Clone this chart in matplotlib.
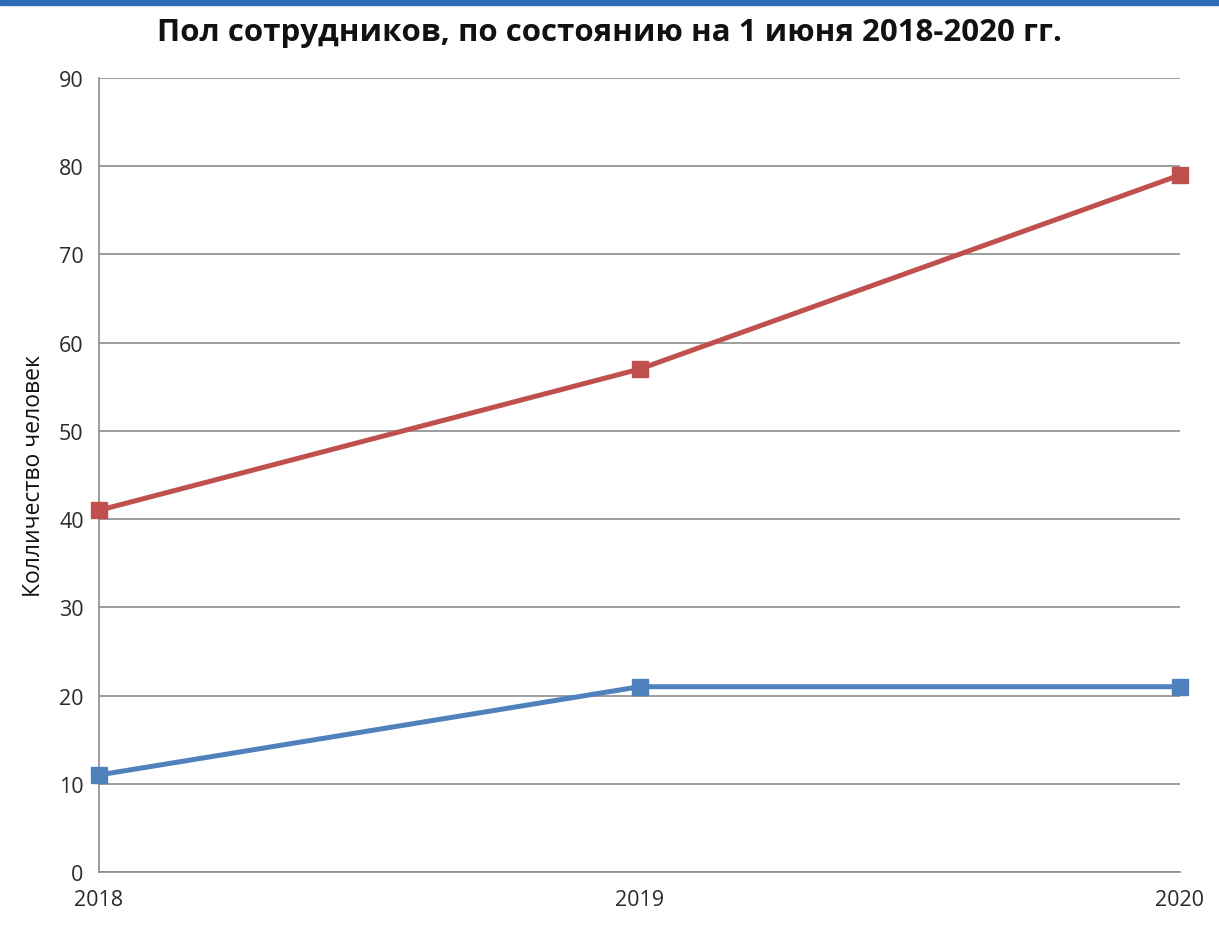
import matplotlib
matplotlib.use("Agg")
import matplotlib.pyplot as plt
from matplotlib.patches import Rectangle

years = [2018, 2019, 2020]
women = [41, 57, 79]
men = [11, 21, 21]
y_ticks = [0, 10, 20, 30, 40, 50, 60, 70, 80, 90]

title = "Пол сотрудников, по состоянию на 1 июня 2018-2020 гг."
y_label = "Колличество человек"

plt.rcParams["font.family"] = ["Open Sans", "DejaVu Sans"]

fig = plt.figure(figsize=(12.19, 9.37), dpi=100)
fig.patches.append(Rectangle((0, 1 - 6 / 937), 1, 6 / 937, transform=fig.transFigure,
                             color="#2e6db4", zorder=0))

ax = fig.add_axes([99 / 1219, 1 - 873 / 937, 1081 / 1219, 794 / 937])

ax.plot(years, women, color="#c0504d", lw=3.6, marker="s", ms=12,
        clip_on=False, zorder=3)
ax.plot(years, men, color="#4f81bd", lw=3.6, marker="s", ms=12,
        clip_on=False, zorder=3)

ax.set_xlim(2018, 2020)
ax.set_ylim(0, 90)
ax.set_xticks(years)
ax.set_xticklabels([str(y) for y in years])
ax.set_yticks(y_ticks)
ax.yaxis.grid(True, color="#8c8c8c", lw=1.2)
ax.set_axisbelow(True)

for side in ("top", "right"):
    ax.spines[side].set_visible(False)
for side in ("left", "bottom"):
    ax.spines[side].set_color("#8c8c8c")
    ax.spines[side].set_linewidth(1.2)

ax.tick_params(axis="both", length=0, labelsize=15.5, colors="#2a2a2a")
ax.tick_params(axis="y", pad=11)
ax.tick_params(axis="x", pad=12)

ax.set_ylabel(y_label, fontsize=16.5, color="#111111", labelpad=9)
fig.text(0.5, 1 - 33 / 937, title, ha="center", va="center",
         fontsize=22.5, fontweight="bold", color="#111111")

fig.savefig("out.png", dpi=100, facecolor="white")
